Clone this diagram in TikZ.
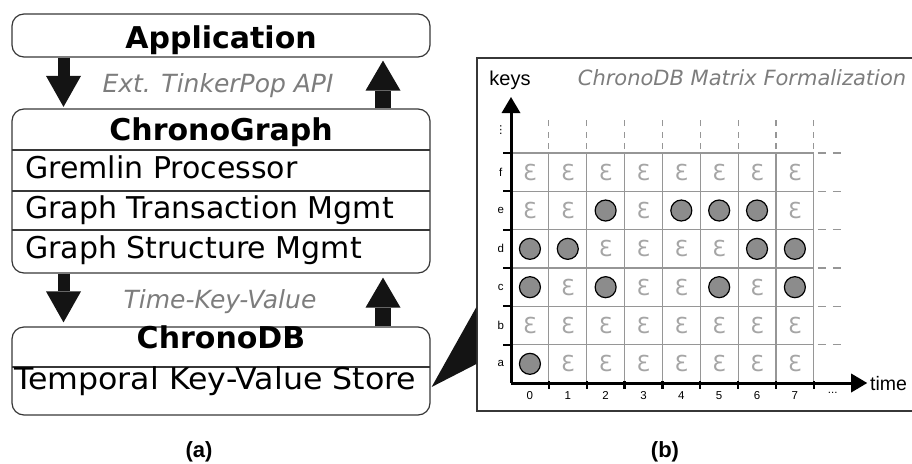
\documentclass[tikz,border=0pt]{standalone}
\usepackage{fontspec}
\setmainfont{DejaVu Sans}
\newfontfamily\arial{Liberation Sans}
\usetikzlibrary{arrows.meta}

\definecolor{linegray}{RGB}{55,55,55}
\definecolor{arrowblack}{RGB}{20,20,20}
\definecolor{textgray}{RGB}{125,125,125}
\definecolor{gridgray}{RGB}{150,150,150}
\definecolor{dotgray}{RGB}{140,140,140}
\definecolor{epsgray}{RGB}{165,165,165}

\newcommand{\layerfont}{\fontsize{30}{36}\selectfont}
\newcommand{\layerbold}{\fontsize{30}{36}\selectfont\bfseries}
\newcommand{\apifont}{\fontsize{25}{30}\selectfont\itshape}

\begin{document}
\begin{tikzpicture}
  [x=1pt,y=-1pt,
   layer/.style={draw=linegray,line width=1.2pt,rounded corners=12pt,inner sep=0pt},
   divider/.style={draw=linegray,line width=1.2pt},
   headtext/.style={font=\layerbold,anchor=base,inner sep=0pt},
   rowtext/.style={font=\layerfont,anchor=base west,inner sep=0pt},
   apitext/.style={font=\apifont,text=textgray,anchor=base,inner sep=0pt},
   downarrow/.style={draw=arrowblack,line width=12pt,-{Triangle[length=31pt,width=35pt,line width=0pt]}},
   uparrow/.style={draw=arrowblack,line width=16pt,-{Triangle[length=30pt,width=35pt,line width=0pt]}},
   gridline/.style={draw=gridgray,line width=1.2pt},
   hdash/.style={draw=gridgray,line width=1.2pt,dash pattern=on 8pt off 7pt,dash phase=11pt},
   vdash/.style={draw=gridgray,line width=1.2pt,dash pattern=on 6pt off 5.5pt,dash phase=7.5pt},
   tickmark/.style={draw=black,line width=2.2pt},
   axisline/.style={draw=black,line width=3pt,-{Triangle[length=16pt,width=19pt,line width=0pt]}},
   keylabel/.style={font=\arial\fontsize{11.5}{12}\selectfont,inner sep=0pt},
   celld/.style={circle,draw=black,fill=dotgray,line width=1.2pt,minimum size=21pt,inner sep=0pt},
   celle/.style={text=epsgray,font=\fontsize{22}{22}\selectfont,inner sep=0pt,execute at begin node={Ɛ}},
   caption/.style={font=\arial\fontsize{22}{26}\selectfont\bfseries,anchor=base,inner sep=0pt}]

  \useasboundingbox (0,0) rectangle (912,463);

  % (a) layer stack
  \node[layer,minimum width=418pt,minimum height=43pt] (app) at (221,35.5) {};
  \node[layer,minimum width=418pt,minimum height=164pt] (cg) at (221,191) {};
  \node[layer,minimum width=418pt,minimum height=88pt] (db) at (221,371) {};
  \foreach \y in {150,191,230,367}
    \draw[divider] (12,\y) -- (430,\y);

  \node[headtext] (apptxt) at (221,48) {Application};
  \node[headtext] (cgtxt) at (221,140) {ChronoGraph};
  \node[rowtext] (gp) at (25,178) {Gremlin Processor};
  \node[rowtext] (gtm) at (25,218) {Graph Transaction Mgmt};
  \node[rowtext] (gsm) at (25,258) {Graph Structure Mgmt};
  \node[headtext] (dbtxt) at (221,348) {ChronoDB};
  \node[rowtext] (tkv) at (14,389) {\scalebox{1.055}[1]{Temporal Key-Value Store}};

  \node[apitext] (api) at (218,92) {Ext. TinkerPop API};
  \node[apitext] (tkvapi) at (220,308) {Time-Key-Value};

  \draw[downarrow] ([xshift=-157.5pt]app.south) -- ([xshift=-157.5pt,yshift=1.5pt]cg.north);
  \draw[uparrow] ([xshift=162pt]cg.north) -- ([xshift=162pt,yshift=-3pt]app.south);
  \draw[downarrow] ([xshift=-157.5pt]cg.south) -- ([xshift=-157.5pt,yshift=4pt]db.north);
  \draw[uparrow] ([xshift=162pt]db.north) -- ([xshift=162pt,yshift=-4pt]cg.south);

  % (b) matrix
  \node[draw=linegray,line width=1.2pt,minimum width=440pt,minimum height=353pt] (frame) at (697,234.5) {};
  \fill[arrowblack] ([xshift=1pt,yshift=-16pt]db.east) -- ([yshift=-72.5pt]frame.west) -- ([yshift=-129.5pt]frame.west) -- cycle;

  \node[font=\arial\fontsize{20}{24}\selectfont,anchor=base,inner sep=0pt] (keys) at (510,85) {keys};
  \node[font=\fontsize{21}{25}\selectfont\itshape,text=textgray,anchor=base,inner sep=0pt] (title) at (742,85) {ChronoDB Matrix Formalization};
  \node[font=\arial\fontsize{19.5}{24}\selectfont,anchor=base west,inner sep=0pt] (time) at (870,390) {time};

  \begin{scope}[shift={(511,383)},x=37.85pt,y=38.33pt]
    \foreach \i in {1,...,8} {
      \draw[gridline] (\i,0) -- (\i,6);
      \draw[vdash] (\i,6) -- (\i,6.86);
      \draw[tickmark] (\i,0.05) -- (\i,-0.15);
    }
    \foreach \j in {1,...,6} {
      \draw[gridline] (0,\j) -- (8,\j);
      \draw[hdash] (8,\j) -- (8.75,\j);
      \draw[tickmark] (0,\j) -- (-0.21,\j);
    }

    \foreach \r/\cells in {0/{d,e,e,e,e,e,e,e},1/{e,e,e,e,e,e,e,e},2/{d,e,d,e,e,d,e,d},
                           3/{d,d,e,e,e,e,d,d},4/{e,e,d,e,d,d,d,e},5/{e,e,e,e,e,e,e,e}}
      \foreach \v [count=\c from 0] in \cells
        \node[cell\v] (c\c\r) at (\c+0.5,\r+0.5) {};

    \foreach \l [count=\r from 0] in {a,b,c,d,e,f}
      \node[keylabel] (k\l) at (-0.27,\r+0.5) {\l};
    \node[inner sep=0pt,font=\fontsize{11}{11}\selectfont] (kdots) at (-0.27,6.6) {⋮};
    \foreach \c in {0,...,7}
      \node[keylabel] (t\c) at (\c+0.5,-0.32) {\c};
    \node[keylabel] (tdots) at (8.5,-0.27) {...};

    \coordinate (o) at (0,0);
    \draw[axisline] (o) -- (9.41,0);
    \draw[axisline] (o) -- (0,7.46);
  \end{scope}

  \node[caption] (capa) at (199,457) {(a)};
  \node[caption] (capb) at (665,457) {(b)};
\end{tikzpicture}
\end{document}
